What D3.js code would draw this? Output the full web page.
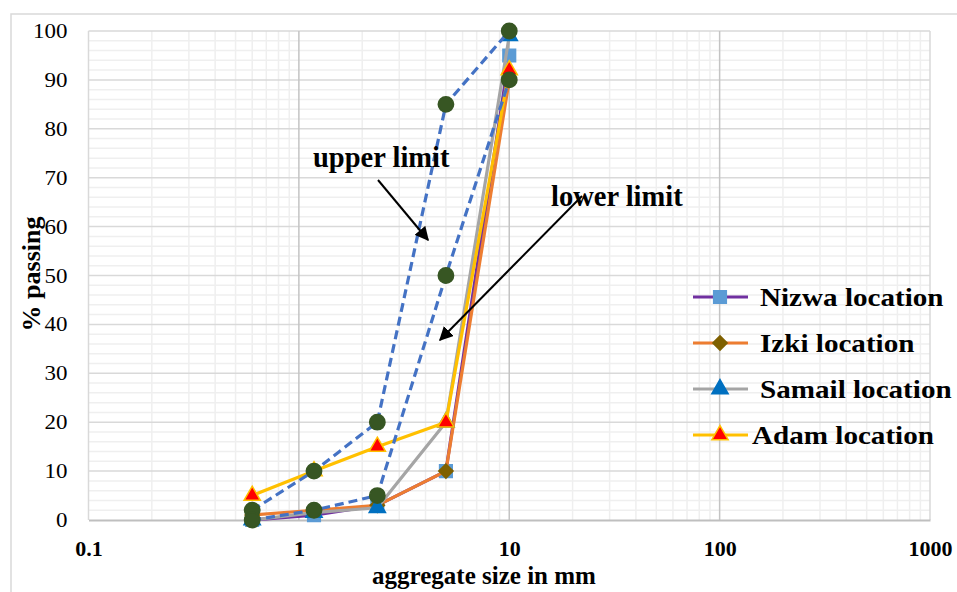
<!DOCTYPE html>
<html><head><meta charset="utf-8">
<script src="https://cdn.jsdelivr.net/npm/d3@7"></script>
<style>body{margin:0;background:#fff}svg{display:block}text{font-family:"Liberation Serif","Times New Roman",serif}</style>
</head><body><svg id="c" width="957" height="592"></svg>
<script>
const sizes = [0.6, 1.18, 2.36, 5, 10];
const nizwa = [0, 1, 3, 10, 95];
const izki = [1, 2, 3, 10, 90];
const samail = [0, 1.5, 2.5, 20, 99];
const adam = [5, 10, 15, 20, 92];
const upperLimit = [2, 10, 20, 85, 100];
const lowerLimit = [0, 2, 5, 50, 90];
const xTicks = [0.1, 1, 10, 100, 1000];
const yTicks = [0, 10, 20, 30, 40, 50, 60, 70, 80, 90, 100];
const legendNames = ["Nizwa location", "Izki location", "Samail location", "Adam location"];

const svg = d3.select("#c");
const x = d3.scaleLog().domain([0.1, 1000]).range([88.5, 930]);
const y = d3.scaleLinear().domain([0, 100]).range([520, 31]);

// outer border
svg.append("rect").attr("x", 11).attr("y", 14).attr("width", 960).attr("height", 600)
  .attr("fill", "none").attr("stroke", "#d9d9d9").attr("stroke-width", 1.5);

const g = svg.append("g");
const minorX = [];
[0.1, 1, 10, 100].forEach(d => { for (let k = 2; k <= 9; k++) minorX.push(d * k); });
const minorY = d3.range(0, 101, 2).filter(v => v % 10 !== 0);
g.selectAll(".mx").data(minorX).join("line").attr("x1", d => x(d)).attr("x2", d => x(d))
  .attr("y1", y(0)).attr("y2", y(100)).attr("stroke", "#efefef").attr("stroke-width", 1.5);
g.selectAll(".my").data(minorY).join("line").attr("y1", d => y(d)).attr("y2", d => y(d))
  .attr("x1", x(0.1)).attr("x2", x(1000)).attr("stroke", "#efefef").attr("stroke-width", 1.5);
g.selectAll(".My").data(yTicks.slice(1)).join("line").attr("y1", d => y(d)).attr("y2", d => y(d))
  .attr("x1", x(0.1)).attr("x2", x(1000)).attr("stroke", "#d9d9d9").attr("stroke-width", 1.5);
g.selectAll(".Mx").data(xTicks).join("line").attr("x1", d => x(d)).attr("x2", d => x(d))
  .attr("y1", y(0)).attr("y2", y(100)).attr("stroke", (d, i) => (i === 0 || i === 4) ? "#d9d9d9" : "#c4c4c4").attr("stroke-width", 1.5);

// axes
const xAxis = svg.append("g").attr("transform", `translate(0,${y(0)})`)
  .call(d3.axisBottom(x).tickValues(xTicks).tickFormat(d => String(d)).tickSize(0).tickPadding(20));
xAxis.select(".domain").attr("stroke", "#bfbfbf").attr("stroke-width", 2);
xAxis.selectAll("text").attr("font-size", 22).attr("font-weight", "bold").attr("fill", "#000");
const yAxis = svg.append("g").attr("transform", `translate(${x(0.1)},0)`)
  .call(d3.axisLeft(y).tickValues(yTicks).tickSize(0).tickPadding(0));
yAxis.select(".domain").remove();
yAxis.selectAll(".tick text").attr("x", null).attr("font-size", 20.5).attr("fill", "#000")
  .attr("transform", "translate(-21,0) scale(1.12,1)");

// titles
svg.append("text").attr("x", 484).attr("y", 584).attr("text-anchor", "middle")
  .attr("font-size", 25).attr("font-weight", "bold").text("aggregate size in mm");
svg.append("text").attr("transform", "translate(40,274) rotate(-90)").attr("text-anchor", "middle")
  .attr("font-size", 26).attr("font-weight", "bold").text("% passing");

const line = d3.line().x((d, i) => x(sizes[i])).y(d => y(d));

const series = [
  {v: nizwa, color: "#7030a0", marker: "square", mfill: "#5b9bd5", mstroke: "#5b9bd5"},
  {v: izki, color: "#ed7d31", marker: "diamond", mfill: "#7f6000", mstroke: "#7f6000"},
  {v: samail, color: "#a5a5a5", marker: "triangle", mfill: "#0070c0", mstroke: "#0070c0"},
  {v: adam, color: "#ffc000", marker: "triangle", mfill: "#ff0000", mstroke: "#ffc000"}
];
const symSize = {square: 160, diamond: 130, triangle: 115, circle: 185};
const symType = {square: d3.symbolSquare, diamond: d3.symbolDiamond2, triangle: d3.symbolTriangle, circle: d3.symbolCircle};

function drawSeries(s, dashed) {
  const sg = svg.append("g");
  sg.append("path").datum(s.v).attr("d", line).attr("fill", "none").attr("stroke", s.color)
    .attr("stroke-width", 3.2).attr("stroke-dasharray", dashed ? "9,5" : null).attr("stroke-linejoin", "round");
  sg.selectAll("path.m").data(s.v).join("path").attr("class", "m")
    .attr("transform", (d, i) => `translate(${x(sizes[i])},${y(d)})`)
    .attr("d", d3.symbol().type(symType[s.marker]).size(symSize[s.marker]))
    .attr("fill", s.mfill).attr("stroke", s.mstroke).attr("stroke-width", 1.5);
}
series.forEach(s => drawSeries(s, false));
drawSeries({v: upperLimit, color: "#4472c4", marker: "circle", mfill: "#375623", mstroke: "#375623"}, true);
drawSeries({v: lowerLimit, color: "#4472c4", marker: "circle", mfill: "#375623", mstroke: "#375623"}, true);

// annotations
svg.append("defs").append("marker").attr("id", "ah").attr("viewBox", "0 0 10 10").attr("refX", 9).attr("refY", 5)
  .attr("markerWidth", 7).attr("markerHeight", 7).attr("orient", "auto")
  .append("path").attr("d", "M0,0L10,5L0,10z").attr("fill", "#000");
svg.append("text").attr("x", 313).attr("y", 167).attr("font-size", 28.5).attr("font-weight", "bold").text("upper limit");
svg.append("text").attr("x", 551).attr("y", 206).attr("font-size", 28.5).attr("font-weight", "bold").text("lower limit");
svg.append("line").attr("x1", 378).attr("y1", 180).attr("x2", 428).attr("y2", 240)
  .attr("stroke", "#000").attr("stroke-width", 2).attr("marker-end", "url(#ah)");
svg.append("line").attr("x1", 582).attr("y1", 196).attr("x2", 440).attr("y2", 340)
  .attr("stroke", "#000").attr("stroke-width", 2).attr("marker-end", "url(#ah)");

// legend
const legY = [297, 343, 389, 435];
const legX = [760, 760, 760, 752];
const lg = svg.append("g");
series.forEach((s, i) => {
  lg.append("line").attr("x1", 693).attr("x2", 748).attr("y1", legY[i]).attr("y2", legY[i])
    .attr("stroke", s.color).attr("stroke-width", 3.2);
  lg.append("path").attr("transform", `translate(720,${legY[i]})`)
    .attr("d", d3.symbol().type(symType[s.marker]).size(symSize[s.marker]))
    .attr("fill", s.mfill).attr("stroke", s.mstroke).attr("stroke-width", 1.5);
  lg.append("text").attr("transform", `translate(${legX[i]},${legY[i]}) scale(1.12,1)`).attr("dy", "0.35em")
    .attr("font-size", 26).attr("font-weight", "bold").text(legendNames[i]);
});
</script></body></html>
